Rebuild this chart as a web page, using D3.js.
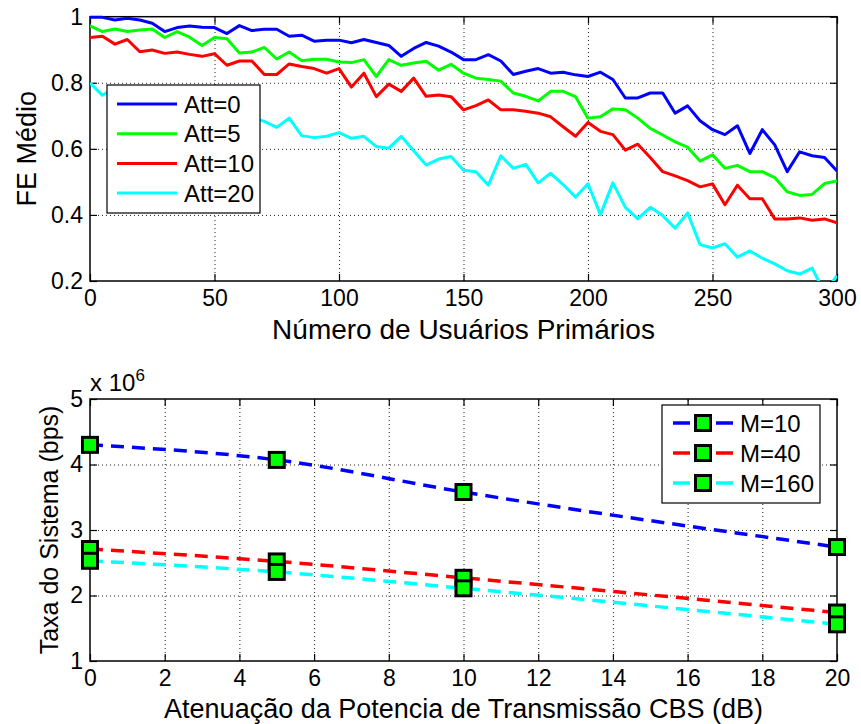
<!DOCTYPE html>
<html>
<head>
<meta charset="utf-8">
<script src="https://cdn.jsdelivr.net/npm/d3@7"></script>
<style>
  body { margin: 0; background: #fff; }
  svg text { font-family: "Liberation Sans", Arial, Helvetica, sans-serif; fill: #000; }
</style>
</head>
<body>
<div id="chart"></div>
<script>
// Eixo x do painel de cima: número de usuários primários
const usuarios = d3.range(0, 301, 5);

// FE médio para cada atenuação
const att0 = [0.998, 0.998, 0.990, 0.995, 0.990, 0.980, 0.955, 0.967, 0.972, 0.968,
  0.967, 0.949, 0.973, 0.958, 0.962, 0.962, 0.941, 0.944, 0.926, 0.929,
  0.929, 0.921, 0.931, 0.922, 0.913, 0.880, 0.904, 0.922, 0.911, 0.893,
  0.870, 0.870, 0.885, 0.866, 0.825, 0.835, 0.843, 0.829, 0.832, 0.824,
  0.819, 0.832, 0.810, 0.754, 0.754, 0.769, 0.769, 0.708, 0.730, 0.685,
  0.658, 0.643, 0.670, 0.586, 0.658, 0.612, 0.531, 0.591, 0.579, 0.574, 0.533];
const att5 = [0.972, 0.955, 0.963, 0.955, 0.960, 0.963, 0.937, 0.955, 0.938, 0.913,
  0.937, 0.933, 0.890, 0.893, 0.907, 0.872, 0.893, 0.867, 0.871, 0.871,
  0.863, 0.861, 0.870, 0.819, 0.870, 0.853, 0.860, 0.865, 0.838, 0.856,
  0.829, 0.814, 0.810, 0.805, 0.769, 0.759, 0.745, 0.774, 0.774, 0.758,
  0.693, 0.697, 0.721, 0.718, 0.693, 0.662, 0.642, 0.621, 0.605, 0.563,
  0.582, 0.541, 0.550, 0.531, 0.531, 0.513, 0.470, 0.459, 0.462, 0.495, 0.503];
const att10 = [0.937, 0.941, 0.917, 0.931, 0.894, 0.899, 0.889, 0.893, 0.886, 0.880,
  0.888, 0.853, 0.866, 0.866, 0.825, 0.825, 0.857, 0.849, 0.843, 0.829,
  0.843, 0.787, 0.829, 0.758, 0.796, 0.774, 0.814, 0.759, 0.763, 0.758,
  0.718, 0.731, 0.748, 0.718, 0.718, 0.714, 0.708, 0.697, 0.667, 0.638,
  0.680, 0.653, 0.643, 0.596, 0.614, 0.574, 0.531, 0.518, 0.504, 0.485,
  0.494, 0.431, 0.490, 0.449, 0.449, 0.388, 0.388, 0.391, 0.384, 0.388, 0.376];
const att20 = [0.800, 0.762, 0.786, 0.760, 0.770, 0.745, 0.750, 0.730, 0.740, 0.720,
  0.725, 0.710, 0.700, 0.695, 0.683, 0.665, 0.693, 0.640, 0.634, 0.638,
  0.649, 0.632, 0.638, 0.607, 0.602, 0.638, 0.594, 0.551, 0.569, 0.577,
  0.535, 0.531, 0.490, 0.579, 0.541, 0.553, 0.497, 0.526, 0.492, 0.454,
  0.494, 0.401, 0.497, 0.423, 0.388, 0.423, 0.398, 0.360, 0.406, 0.310,
  0.300, 0.313, 0.272, 0.291, 0.269, 0.252, 0.231, 0.221, 0.239, 0.165, 0.216];

const serieNomes = ["Att=0", "Att=5", "Att=10", "Att=20"];
const serieCores = ["#0000ff", "#00ff00", "#ff0000", "#00ffff"];

// Painel de baixo: taxa do sistema (x 10^6 bps) por atenuação da CBS
const atenuacao = [0, 5, 10, 20];
const taxaM10 = [4.30, 4.07, 3.58, 2.74];
const taxaM40 = [2.71, 2.52, 2.27, 1.74];
const taxaM160 = [2.53, 2.36, 2.11, 1.56];
const mNomes = ["M=10", "M=40", "M=160"];

const svg = d3.select("#chart").append("svg")
  .attr("width", 861)
  .attr("height", 724);

const font = '"Liberation Sans", Arial, Helvetica, sans-serif';

// moldura, grade pontilhada e ticks para dentro nos quatro lados
function drawFrame(box, x, y, xTicks, yTicks, yFmt) {
  const g = svg.append("g");
  const w = box.right - box.left, h = box.bottom - box.top;

  g.append("g")
    .attr("transform", `translate(0,${box.bottom})`)
    .call(d3.axisBottom(x).tickValues(xTicks.slice(1, -1)).tickSize(-h).tickFormat(""))
    .call(a => a.select(".domain").remove())
    .selectAll("line").attr("stroke", "#222").attr("stroke-dasharray", "1,3");
  g.append("g")
    .attr("transform", `translate(${box.left},0)`)
    .call(d3.axisLeft(y).tickValues(yTicks.slice(1, -1)).tickSize(-w).tickFormat(""))
    .call(a => a.select(".domain").remove())
    .selectAll("line").attr("stroke", "#222").attr("stroke-dasharray", "1,3");

  const axes = [
    [d3.axisBottom(x).tickValues(xTicks).tickPadding(9), `translate(0,${box.bottom})`],
    [d3.axisTop(x).tickValues(xTicks).tickFormat(""), `translate(0,${box.top})`],
    [d3.axisLeft(y).tickValues(yTicks).tickFormat(yFmt).tickPadding(7), `translate(${box.left},0)`],
    [d3.axisRight(y).tickValues(yTicks).tickFormat(""), `translate(${box.right},0)`]
  ];
  axes.forEach(([ax, tr]) => {
    g.append("g")
      .attr("transform", tr)
      .call(ax.tickSizeInner(-7).tickSizeOuter(0))
      .call(a => a.select(".domain").remove())
      .call(a => a.selectAll("line").attr("stroke", "#000").attr("stroke-width", 1.2))
      .attr("font-family", font)
      .attr("font-size", 23);
  });

  g.append("rect")
    .attr("x", box.left).attr("y", box.top)
    .attr("width", w).attr("height", h)
    .attr("fill", "none").attr("stroke", "#000").attr("stroke-width", 1.5);
}

// ---------- painel superior ----------
const boxA = { left: 90, right: 837, top: 16.7, bottom: 281 };
const xA = d3.scaleLinear().domain([0, 300]).range([boxA.left, boxA.right]);
const yA = d3.scaleLinear().domain([0.2, 1]).range([boxA.bottom, boxA.top]);

drawFrame(boxA, xA, yA, d3.range(0, 301, 50), [0.2, 0.4, 0.6, 0.8, 1],
  d => d === 1 ? "1" : d3.format(".1f")(d));

svg.append("clipPath").attr("id", "clipA")
  .append("rect")
  .attr("x", boxA.left).attr("y", boxA.top - 3)
  .attr("width", boxA.right - boxA.left).attr("height", boxA.bottom - boxA.top + 3);

const lineA = d3.line().x((d, i) => xA(usuarios[i])).y(d => yA(d));

svg.append("g").attr("clip-path", "url(#clipA)")
  .selectAll("path")
  .data([att0, att5, att10, att20])
  .join("path")
  .attr("d", lineA)
  .attr("fill", "none")
  .attr("stroke", (d, i) => serieCores[i])
  .attr("stroke-width", 3)
  .attr("stroke-linejoin", "round");

svg.append("text")
  .attr("x", (boxA.left + boxA.right) / 2)
  .attr("y", 339)
  .attr("text-anchor", "middle")
  .attr("font-size", 28)
  .text("Número de Usuários Primários");

svg.append("text")
  .attr("transform", `translate(36,${(boxA.top + boxA.bottom) / 2}) rotate(-90)`)
  .attr("text-anchor", "middle")
  .attr("font-size", 27)
  .text("FE Médio");

// legenda do painel superior
const legA = svg.append("g");
legA.append("rect")
  .attr("x", 107).attr("y", 85).attr("width", 153).attr("height", 128)
  .attr("fill", "#fff").attr("stroke", "#000").attr("stroke-width", 1.2);
const rowsA = legA.selectAll("g.item").data(serieNomes).join("g")
  .attr("class", "item")
  .attr("transform", (d, i) => `translate(0,${104 + i * 29.7})`);
rowsA.append("line")
  .attr("x1", 117).attr("x2", 177)
  .attr("stroke", (d, i) => serieCores[i]).attr("stroke-width", 3);
rowsA.append("text")
  .attr("x", 184).attr("dy", "0.36em")
  .attr("font-size", 24)
  .text(d => d);

// ---------- painel de baixo ----------
const boxB = { left: 90, right: 837, top: 399, bottom: 661 };
const xB = d3.scaleLinear().domain([0, 20]).range([boxB.left, boxB.right]);
const yB = d3.scaleLinear().domain([1, 5]).range([boxB.bottom, boxB.top]);

drawFrame(boxB, xB, yB, d3.range(0, 21, 2), [1, 2, 3, 4, 5], d3.format("d"));

const taxas = [taxaM10, taxaM40, taxaM160];
const lineB = d3.line()
  .x((d, i) => xB(atenuacao[i]))
  .y(d => yB(d))
  .curve(d3.curveMonotoneX);

svg.append("g").selectAll("path")
  .data(taxas)
  .join("path")
  .attr("d", lineB)
  .attr("fill", "none")
  .attr("stroke", (d, i) => serieCores[i === 0 ? 0 : i + 1])
  .attr("stroke-width", 3.5)
  .attr("stroke-dasharray", "13,8");

const mk = 15;
taxas.forEach(serie => {
  svg.append("g").selectAll("rect")
    .data(serie)
    .join("rect")
    .attr("x", (d, i) => xB(atenuacao[i]) - mk / 2)
    .attr("y", d => yB(d) - mk / 2)
    .attr("width", mk).attr("height", mk)
    .attr("fill", "#00ff00")
    .attr("stroke", "#000")
    .attr("stroke-width", 3);
});

// fator de escala do eixo y
const expo = svg.append("text")
  .attr("x", 90).attr("y", 391)
  .attr("font-size", 24);
expo.append("tspan").text("x 10");
expo.append("tspan").attr("dy", -10).attr("font-size", 17).text("6");

svg.append("text")
  .attr("x", (boxB.left + boxB.right) / 2)
  .attr("y", 718)
  .attr("text-anchor", "middle")
  .attr("font-size", 27)
  .text("Atenuação da Potencia de Transmissão CBS (dB)");

svg.append("text")
  .attr("transform", `translate(58,${(boxB.top + boxB.bottom) / 2}) rotate(-90)`)
  .attr("text-anchor", "middle")
  .attr("font-size", 25)
  .text("Taxa do Sistema (bps)");

// legenda do painel de baixo
const legB = svg.append("g");
legB.append("rect")
  .attr("x", 662).attr("y", 405).attr("width", 158).attr("height", 98)
  .attr("fill", "#fff").attr("stroke", "#000").attr("stroke-width", 1.2);
const rowsB = legB.selectAll("g.item").data(mNomes).join("g")
  .attr("class", "item")
  .attr("transform", (d, i) => `translate(0,${423 + i * 30})`);
rowsB.append("line")
  .attr("x1", 673).attr("x2", 733)
  .attr("stroke", (d, i) => serieCores[i === 0 ? 0 : i + 1])
  .attr("stroke-width", 3.5)
  .attr("stroke-dasharray", "17,26");
rowsB.append("rect")
  .attr("x", 703 - mk / 2).attr("y", -mk / 2)
  .attr("width", mk).attr("height", mk)
  .attr("fill", "#00ff00").attr("stroke", "#000").attr("stroke-width", 3);
rowsB.append("text")
  .attr("x", 740).attr("dy", "0.36em")
  .attr("font-size", 24)
  .text(d => d);
</script>
</body>
</html>
